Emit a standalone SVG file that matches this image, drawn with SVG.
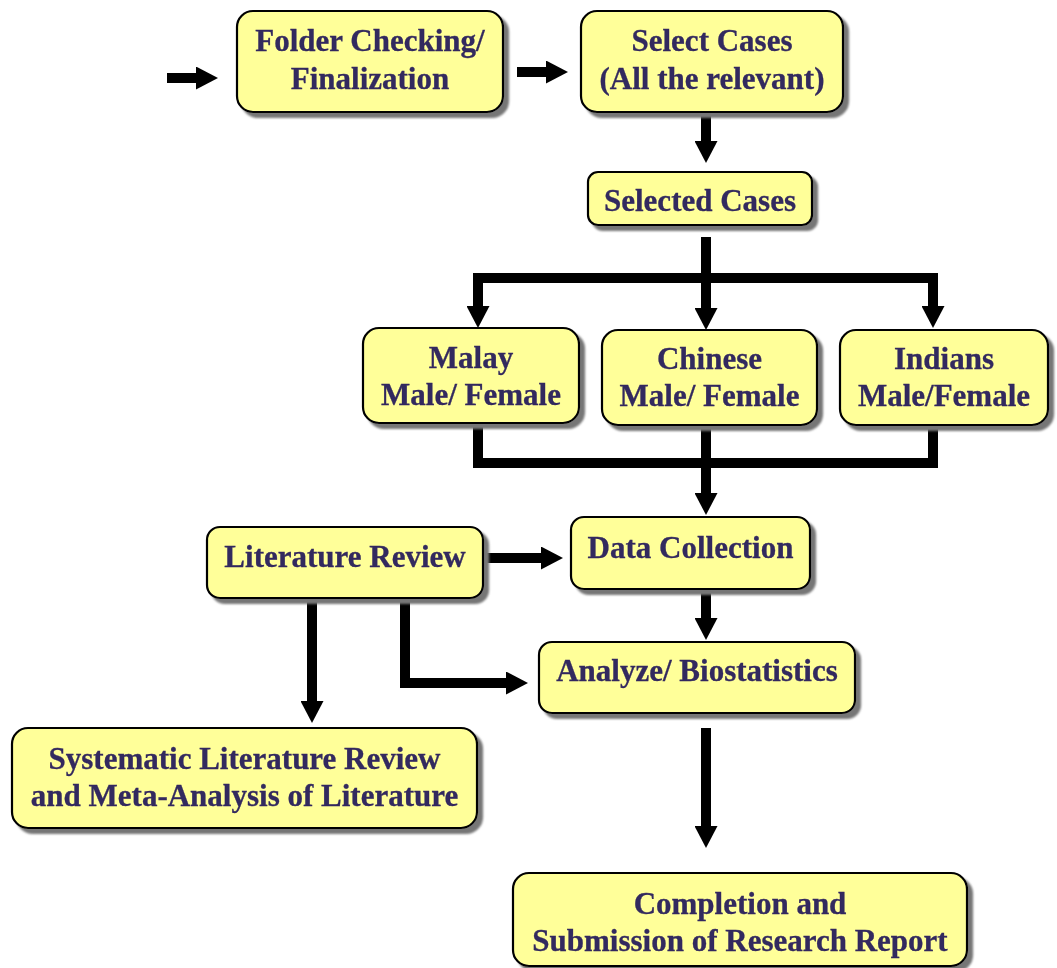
<svg xmlns="http://www.w3.org/2000/svg" width="1057" height="968" viewBox="0 0 1057 968">
<style>
.box{fill:#FFFF99;stroke:#000;stroke-width:2.2}
.t{font-family:"Liberation Serif","Times New Roman",serif;font-weight:bold;font-size:31px;fill:#33295E;text-anchor:middle;stroke:#33295E;stroke-width:0.3}
.c{fill:none;stroke:#000;stroke-width:10;stroke-linejoin:miter;stroke-linecap:butt}
</style>
<defs>
<filter id="sh" x="-10%" y="-10%" width="130%" height="140%">
<feDropShadow dx="5" dy="5" stdDeviation="1" flood-color="#767676" flood-opacity="1"/>
</filter>
<marker id="ah" viewBox="0 0 22 23" markerWidth="22" markerHeight="23" refX="1" refY="11.5" orient="auto" markerUnits="userSpaceOnUse">
<path d="M0,0 L22,11.5 L0,23 Z" fill="#000"/>
</marker>
</defs>
<g id="connectors">
<path class="c" d="M167,78 H197" marker-end="url(#ah)"/>
<path class="c" d="M517,72 H547" marker-end="url(#ah)"/>
<path class="c" d="M706,112 V142" marker-end="url(#ah)"/>
<path class="c" d="M706,237 V309" marker-end="url(#ah)"/>
<path class="c" d="M706,278 H478 V307" marker-end="url(#ah)"/>
<path class="c" d="M706,278 H933 V307" marker-end="url(#ah)"/>
<path class="c" d="M478,423 V463 H933 V425"/>
<path class="c" d="M706,425 V494" marker-end="url(#ah)"/>
<path class="c" d="M706,589 V619" marker-end="url(#ah)"/>
<path class="c" d="M706,728 V827" marker-end="url(#ah)"/>
<path class="c" d="M483,558 H542" marker-end="url(#ah)"/>
<path class="c" d="M312,600 V702" marker-end="url(#ah)"/>
<path class="c" d="M405,600 V683 H507" marker-end="url(#ah)"/>
</g>
<g id="folder" filter="url(#sh)">
<rect class="box" x="237" y="11" width="266" height="101" rx="16"/>
<text class="t" x="370" y="51">Folder Checking/</text>
<text class="t" x="370" y="89">Finalization</text>
</g>
<g id="select" filter="url(#sh)">
<rect class="box" x="581" y="11" width="262" height="101" rx="16"/>
<text class="t" x="712" y="51">Select Cases</text>
<text class="t" x="712" y="89">(All the relevant)</text>
</g>
<g id="selected" filter="url(#sh)">
<rect class="box" x="588" y="172" width="224" height="53" rx="10"/>
<text class="t" x="700" y="211">Selected Cases</text>
</g>
<g id="malay" filter="url(#sh)">
<rect class="box" x="363" y="328" width="216" height="95" rx="16"/>
<text class="t" x="471" y="368">Malay</text>
<text class="t" x="471" y="405">Male/ Female</text>
</g>
<g id="chinese" filter="url(#sh)">
<rect class="box" x="602" y="330" width="215" height="95" rx="16"/>
<text class="t" x="709.5" y="369">Chinese</text>
<text class="t" x="709.5" y="406">Male/ Female</text>
</g>
<g id="indians" filter="url(#sh)">
<rect class="box" x="840" y="330" width="208" height="95" rx="16"/>
<text class="t" x="944" y="369">Indians</text>
<text class="t" x="944" y="406">Male/Female</text>
</g>
<g id="litreview" filter="url(#sh)">
<rect class="box" x="207" y="527" width="276" height="71" rx="13"/>
<text class="t" x="345" y="567">Literature Review</text>
</g>
<g id="datacollection" filter="url(#sh)">
<rect class="box" x="571" y="517" width="239" height="72" rx="13"/>
<text class="t" x="690.5" y="558">Data Collection</text>
</g>
<g id="analyze" filter="url(#sh)">
<rect class="box" x="539" y="642" width="316" height="71" rx="13"/>
<text class="t" x="697" y="681">Analyze/ Biostatistics</text>
</g>
<g id="systematic" filter="url(#sh)">
<rect class="box" x="12" y="728" width="465" height="100" rx="16"/>
<text class="t" x="244.5" y="769">Systematic Literature Review</text>
<text class="t" x="244.5" y="806">and Meta-Analysis of Literature</text>
</g>
<g id="completion" filter="url(#sh)">
<rect class="box" x="513" y="873" width="454" height="93" rx="16"/>
<text class="t" x="740" y="914">Completion and</text>
<text class="t" x="740" y="951">Submission of Research Report</text>
</g>
</svg>
